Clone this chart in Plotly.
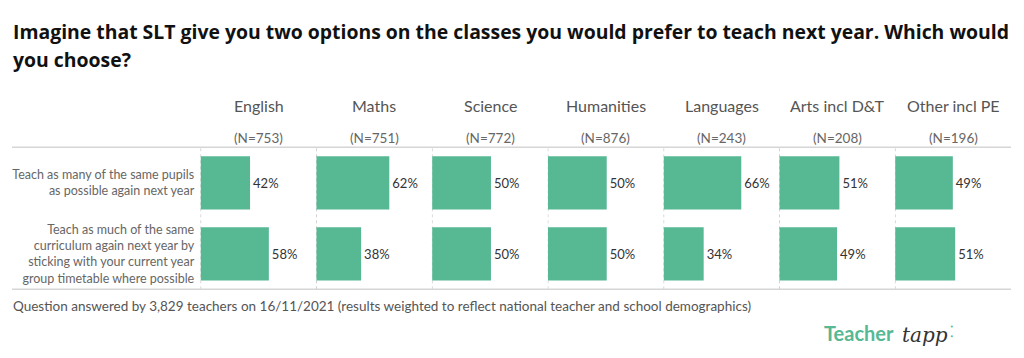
import plotly.graph_objects as go

subjects = ["English", "Maths", "Science", "Humanities", "Languages", "Arts incl D&T", "Other incl PE"]
n_counts = ["(N=753)", "(N=751)", "(N=772)", "(N=876)", "(N=243)", "(N=208)", "(N=196)"]
options = [
    "Teach as many of the same pupils<br>as possible again next year",
    "Teach as much of the same<br>curriculum again next year by<br>sticking with your current year<br>group timetable where possible",
]
same_pupils = [42, 62, 50, 50, 66, 51, 49]
same_curriculum = [58, 38, 50, 50, 34, 49, 51]

title_lines = [
    "Imagine that SLT give you two options on the classes you would prefer to teach next year. Which would",
    "you choose?",
]
footer = "Question answered by 3,829 teachers on 16/11/2021 (results weighted to reflect national teacher and school demographics)"

# page body has an 8px default margin: size the figure to fit the 1024x358 window
OFF = 8
W, H = 1024 - OFF, 358 - OFF
FONT = "Lato, 'Open Sans', sans-serif"
GREEN = "#57B894"


def xp(px):
    return (px - OFF) / W


def yp(py):
    return 1 - (py - OFF) / H


left_px, right_px = 200.7, 1011.0
top_px, bot_px = 147.3, 289.3
panel_w = (right_px - left_px) / len(subjects)
PX_PER_PCT = 1.175
pad = 0.4

fig = go.Figure()
for i, subj in enumerate(subjects):
    ax = "" if i == 0 else str(i + 1)
    vals = [same_pupils[i], same_curriculum[i]]
    fig.add_trace(go.Bar(
        x=vals, y=options, orientation="h",
        marker=dict(color=GREEN, line=dict(width=0)),
        width=0.75,
        text=[f"{v}%" for v in vals], textposition="outside",
        textfont=dict(size=13, color="#333333", family=FONT),
        cliponaxis=False,
        xaxis="x" + ax, yaxis="y" + ax, showlegend=False,
        hoverinfo="skip",
    ))
    x0 = xp(left_px + i * panel_w - pad * PX_PER_PCT)
    x1 = xp(left_px + (i + 1) * panel_w - pad * PX_PER_PCT)
    fig.layout["xaxis" + ax] = dict(
        domain=[x0, x1], range=[-pad, panel_w / PX_PER_PCT - pad], showticklabels=False,
        showgrid=False, zeroline=False, showline=False, fixedrange=True,
    )
    fig.layout["yaxis" + ax] = dict(
        domain=[yp(bot_px), yp(top_px)], anchor="x" + ax,
        autorange="reversed", showticklabels=(i == 0), showgrid=False,
        zeroline=False, showline=False, ticks="", ticklabelstandoff=5,
        tickfont=dict(size=12.5, color="#666666", family=FONT),
        categoryorder="array", categoryarray=options,
    )
    # dotted baseline at 0% for each panel
    fig.add_shape(type="line", xref="x" + ax, yref=("y" + ax) + " domain",
                  x0=0, x1=0, y0=0, y1=1, layer="below",
                  line=dict(color="#d0d0d0", width=1, dash="dot"))
    cx = xp(left_px + (i + 0.5) * panel_w)
    fig.add_annotation(x=cx, y=yp(105), xref="paper", yref="paper", text=subj,
                       showarrow=False, xanchor="center", yanchor="middle",
                       font=dict(size=16, color="#555555", family=FONT))
    fig.add_annotation(x=cx, y=yp(137.5), xref="paper", yref="paper", text=n_counts[i],
                       showarrow=False, xanchor="center", yanchor="middle",
                       font=dict(size=13.5, color="#666666", family=FONT))

# title
for j, line in enumerate(title_lines):
    fig.add_annotation(x=xp(11), y=yp(31 + 28.5 * j), xref="paper", yref="paper",
                       text=f"<b>{line}</b>", showarrow=False, xanchor="left", yanchor="middle",
                       font=dict(size=19.4, color="#111111", family="'Open Sans', sans-serif"))

# footer
fig.add_annotation(x=xp(11), y=yp(306), xref="paper", yref="paper", text=footer,
                   showarrow=False, xanchor="left", yanchor="middle",
                   font=dict(size=13.5, color="#555555", family=FONT))

# logo
fig.add_annotation(x=xp(822), y=yp(333), xref="paper", yref="paper", text="<b>Teacher</b>",
                   showarrow=False, xanchor="left", yanchor="middle",
                   font=dict(size=20, color=GREEN, family=FONT))
fig.add_annotation(x=xp(900), y=yp(335), xref="paper", yref="paper", text="<i>tapp</i>",
                   showarrow=False, xanchor="left", yanchor="middle",
                   font=dict(size=20, color="#333333", family="DejaVu Serif"))
fig.add_annotation(x=xp(948), y=yp(330), xref="paper", yref="paper", text="⁚",
                   showarrow=False, xanchor="left", yanchor="middle",
                   font=dict(size=16, color=GREEN, family=FONT))

# horizontal rules
for ypx in (top_px, bot_px):
    fig.add_shape(type="line", xref="paper", yref="paper", x0=xp(12), x1=xp(right_px),
                  y0=yp(ypx), y1=yp(ypx), line=dict(color="#d6d6d6", width=1.5))

fig.update_layout(
    width=W, height=H, margin=dict(l=0, r=0, t=0, b=0),
    paper_bgcolor="white", plot_bgcolor="white", bargap=0.25,
    font=dict(family=FONT),
)
fig.write_html("out.html")
